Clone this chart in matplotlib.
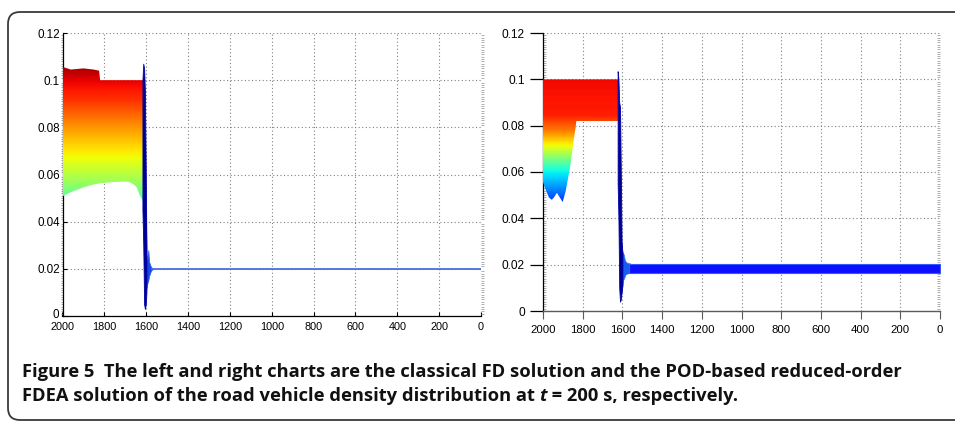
import numpy as np
import matplotlib
matplotlib.use("Agg")
import matplotlib.pyplot as plt
from matplotlib.patches import FancyBboxPatch
from matplotlib.transforms import IdentityTransform, ScaledTranslation

# ---------------- data ----------------
x_ticks = [2000, 1800, 1600, 1400, 1200, 1000, 800, 600, 400, 200, 0]
x_labels = ["2000", "1800", "1600", "1400", "1200", "1000", "800", "600", "400", "200", "0"]
y_ticks = [0, 0.02, 0.04, 0.06, 0.08, 0.10, 0.12]
y_labels = ["0", "0.02", "0.04", "0.06", "0.08", "0.1", "0.12"]

# Left chart (classical FD): band of density profiles
left_band_x = [2000, 1995, 1960, 1900, 1850, 1825, 1820, 1760, 1700, 1680, 1660, 1645, 1630, 1620, 1614]
left_band_top = [0.105, 0.1055, 0.1045, 0.105, 0.1045, 0.104, 0.100, 0.100, 0.100, 0.100, 0.100, 0.100, 0.100, 0.100, 0.100]
left_band_bot = [0.0505, 0.051, 0.0525, 0.0545, 0.0558, 0.0562, 0.0563, 0.0568, 0.057, 0.0568, 0.0558, 0.0545, 0.051, 0.0495, 0.048]
left_col_y = [0.045, 0.050, 0.058, 0.065, 0.080, 0.092, 0.100, 0.106]
left_col_v = [0.40, 0.46, 0.55, 0.62, 0.75, 0.86, 0.91, 0.97]
# shock spike
left_spike_x = [1618, 1614, 1610, 1606, 1602, 1599]
left_spike_hi = [0.100, 0.107, 0.105, 0.095, 0.060, 0.030]
left_spike_lo = [0.045, 0.030, 0.005, 0.003, 0.005, 0.010]
# oscillation after spike
left_osc_x = [1603, 1598, 1594, 1590, 1586, 1582, 1578, 1574, 1568]
left_osc_hi = [0.050, 0.026, 0.024, 0.028, 0.023, 0.022, 0.021, 0.0205, 0.0201]
left_osc_lo = [0.010, 0.012, 0.014, 0.015, 0.017, 0.018, 0.019, 0.0195, 0.0199]
# downstream flat density
left_flat_x = [1570, 0]
left_flat_y = [0.020, 0.020]

# Right chart (POD reduced-order FDEA)
right_band_x = [2000, 1985, 1970, 1956, 1945, 1930, 1915, 1901, 1885, 1860, 1845, 1836, 1832, 1830, 1700, 1622]
right_band_top = [0.100, 0.100, 0.100, 0.100, 0.100, 0.100, 0.100, 0.100, 0.100, 0.100, 0.100, 0.100, 0.100, 0.100, 0.100, 0.100]
right_band_bot = [0.0555, 0.052, 0.049, 0.048, 0.049, 0.051, 0.049, 0.047, 0.052, 0.064, 0.074, 0.079, 0.082, 0.082, 0.082, 0.082]
right_col_y = [0.045, 0.052, 0.061, 0.071, 0.078, 0.085, 0.100]
right_col_v = [0.14, 0.25, 0.38, 0.63, 0.78, 0.88, 0.90]
right_spike_x = [1624, 1620, 1616, 1612, 1608, 1604, 1600]
right_spike_hi = [0.1035, 0.1000, 0.0900, 0.0880, 0.0600, 0.0300, 0.0250]
right_spike_lo = [0.0550, 0.0400, 0.0100, 0.0040, 0.0050, 0.0080, 0.0110]
right_osc_x = [1606, 1600, 1596, 1592, 1588, 1584, 1580, 1570, 1560]
right_osc_hi = [0.030, 0.0256, 0.025, 0.024, 0.022, 0.0215, 0.021, 0.0207, 0.0205]
right_osc_lo = [0.008, 0.011, 0.0134, 0.014, 0.015, 0.0158, 0.016, 0.0163, 0.0165]
right_flat_x = [1565, 0]
right_flat_hi = [0.0205, 0.0205]
right_flat_lo = [0.0165, 0.0165]

caption1 = "Figure 5  The left and right charts are the classical FD solution and the POD-based reduced-order"
caption2a = "FDEA solution of the road vehicle density distribution at "
caption2b = "t"
caption2c = " = 200 s, respectively."

# ---------------- figure ----------------
W, H = 955, 423
fig = plt.figure(figsize=(W / 100, H / 100), dpi=100)
jet = plt.get_cmap("jet")
plt.rcParams["font.family"] = ["Liberation Sans", "DejaVu Sans"]

# outer rounded frame
frame = FancyBboxPatch((8, H - 420), 990, 408, boxstyle="round,pad=0,rounding_size=12",
                       transform=IdentityTransform(), fill=False, edgecolor="#3a3a3a", linewidth=1.3)
fig.add_artist(frame)

def px_axes(x0, x1, ytop, ybot):
    return fig.add_axes([x0 / W, 1 - ybot / H, (x1 - x0) / W, (ybot - ytop) / H])

def base(ax):
    ax.set_xlim(2000, 0)
    ax.set_ylim(0, 0.12)
    ax.set_xticks(x_ticks)
    ax.set_xticklabels(x_labels)
    ax.set_yticks(y_ticks)
    ax.set_yticklabels(y_labels)
    ax.grid(True, which="major", color="#808080", linestyle=(0, (1, 2.2)), linewidth=0.8)
    ax.set_axisbelow(True)
    ax.set_facecolor("white")
    for s in ("top", "right"):
        ax.spines[s].set_visible(False)
    ax.yaxis.set_minor_locator(matplotlib.ticker.MultipleLocator(0.001))

def gradient_band(ax, bx, btop, bbot, cy, cv):
    poly = ax.fill_between(bx, bbot, btop, facecolor="none", edgecolor="none", zorder=3)
    ys = np.linspace(0.0, 0.12, 600)
    vals = np.interp(ys, cy, cv)
    img = jet(vals)[:, None, :]
    im = ax.imshow(img, extent=(2000, 1600, 0.0, 0.12), origin="lower", aspect="auto",
                   interpolation="bilinear", zorder=3)
    im.set_clip_path(poly.get_paths()[0], transform=ax.transData)
    ax.set_xlim(2000, 0)
    ax.set_ylim(0, 0.12)

# ---- left chart ----
axL = px_axes(62.5, 481, 33, 316)
base(axL)
gradient_band(axL, left_band_x, left_band_top, left_band_bot, left_col_y, left_col_v)
axL.fill_between(left_spike_x, left_spike_lo, left_spike_hi, color="#000090", linewidth=0.6, edgecolor="#0000a8", zorder=5)
axL.fill_between(left_osc_x, left_osc_lo, left_osc_hi, color="#1a48e6", linewidth=0.5, edgecolor="#2a58ee", zorder=4)
axL.plot(left_flat_x, left_flat_y, color="#4a70dc", linewidth=1.3, zorder=4)
axL.spines["left"].set_color("black")
axL.spines["bottom"].set_color("black")
axL.spines["left"].set_linewidth(0.9)
axL.spines["bottom"].set_linewidth(0.9)
axL.tick_params(axis="both", which="major", direction="in", length=3, width=0.8, colors="black")
axL.tick_params(axis="x", which="major", pad=4, labelsize=7.8)
axL.tick_params(axis="y", which="major", pad=2, labelsize=8.4)
axL.tick_params(axis="y", which="minor", direction="out", length=1.8, width=0.5, color="#909090", left=True, right=True)
# lift the "0" y label a little so it does not collide with "2000"
zero_lbl = axL.get_yticklabels()[0]
zero_lbl.set_transform(zero_lbl.get_transform() + ScaledTranslation(-1 / 100, 3 / 100, fig.dpi_scale_trans))

# ---- right chart ----
axR = px_axes(543, 940, 33, 311)
base(axR)
gradient_band(axR, right_band_x, right_band_top, right_band_bot, right_col_y, right_col_v)
axR.fill_between(right_spike_x, right_spike_lo, right_spike_hi, color="#000090", linewidth=0.6, edgecolor="#0000a8", zorder=5)
axR.fill_between(right_osc_x, right_osc_lo, right_osc_hi, color="#1a5af0", linewidth=0.5, edgecolor="#3070ff", zorder=4)
axR.fill_between(right_flat_x, right_flat_lo, right_flat_hi, color="#0a10ff", linewidth=0.8, edgecolor="#3858ff", zorder=4)
axR.spines["left"].set_color("black")
axR.spines["bottom"].set_color("#5a5a5a")
axR.spines["left"].set_linewidth(0.9)
axR.spines["bottom"].set_linewidth(1.0)
axR.tick_params(axis="x", which="major", direction="out", length=5.8, width=0.8, pad=4.5, labelsize=8.2, color="#5a5a5a")
axR.tick_params(axis="y", which="major", direction="out", length=9.5, width=0.9, pad=3.5, labelsize=8.6, color="black")
axR.tick_params(axis="y", which="minor", direction="in", length=2.2, width=0.5, color="#909090", left=True, right=True)

# ---------------- caption ----------------
cap_font = dict(family=["Open Sans", "DejaVu Sans"], weight="bold", color="#111111")
x0 = 22
t1 = fig.text(x0 / W, 1 - 377 / H, caption1, fontsize=10, **cap_font)
r = fig.canvas.get_renderer()
w1 = t1.get_window_extent(r).width
fs = 10 * 880 / w1
t1.set_fontsize(fs)

ta = fig.text(x0 / W, 1 - 400.5 / H, caption2a, fontsize=fs, **cap_font)
wa = ta.get_window_extent(r).width
tb = fig.text((x0 + wa) / W, 1 - 400.5 / H, caption2b, fontsize=fs, style="italic", **cap_font)
wb = tb.get_window_extent(r).width
tc = fig.text((x0 + wa + wb) / W, 1 - 400.5 / H, caption2c, fontsize=fs, **cap_font)

fig.savefig("out.png", dpi=100)
